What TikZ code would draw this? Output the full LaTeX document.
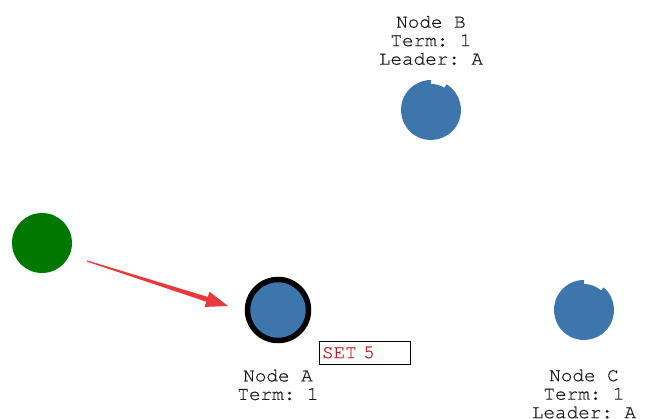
\documentclass[tikz,border=0pt]{standalone}
\usepackage{fontspec}
\setmonofont[FakeBold=0.6]{TeX Gyre Cursor}
\usetikzlibrary{shapes, arrows.meta, positioning, calc}
\definecolor{nodeblue}{RGB}{60,118,173}
\definecolor{clientgreen}{RGB}{0,120,0}
\definecolor{arrowred}{RGB}{232,58,58}
\definecolor{setred}{RGB}{180,30,30}
\tikzstyle{every node}=[font=\ttfamily\fontsize{19.3}{18.5}\selectfont]
\tikzstyle{server}=[circle, inner sep=0pt, minimum size=60pt]
\tikzstyle{leader}=[server, fill=nodeblue, draw=black, line width=5.5pt, minimum size=61pt]
\tikzstyle{status}=[align=center, text=black!90]
\tikzstyle{msg}=[draw, rectangle, line width=0.8pt, text=setred, minimum height=23pt, text width=85pt, inner xsep=3pt, align=left]
\newcommand{\timer}[2]{\fill[nodeblue] ($(#1)+(#2:30pt)$) arc[start angle=#2, end angle=-270, radius=30pt] -- ($(#1)+(90:26pt)$) arc[start angle=90, end angle=#2, radius=26pt] -- cycle;}

\begin{document}
\begin{tikzpicture}[x=1pt, y=1pt, node distance=70pt]
  \useasboundingbox (0,0) rectangle (645,418);
  \node[server, fill=clientgreen] (client) at (42,175) {};
  \node[leader] (a) at (278,108) {};
  \node[server] (b) at (431,308) {};
  \node[server] (c) at (584,108) {};
  \timer{b}{59}
  \timer{c}{49}
  \node[status, above of=b, node distance=69.5pt] (labb) {Node B\\Term: 1\\Leader: A};
  \node[status, below of=a, node distance=75pt] (laba) {Node A\\Term: 1};
  \node[status, below of=c, node distance=84pt] (labc) {Node C\\Term: 1\\Leader: A};
  \node[msg] (set) at (364.5,65.5) {SET 5};
  \coordinate (tail) at (87,157);
  \coordinate (tip) at (228,112);
  \coordinate (base) at ($(tip)!22pt!(tail)$);
  \fill[arrowred] ($(tail)!0.6pt!90:(tip)$) -- ($(base)!2.5pt!-90:(tail)$) -- ($(base)!8pt!-90:(tail)$) -- (tip) -- ($(base)!8pt!90:(tail)$) -- ($(base)!2.5pt!90:(tail)$) -- ($(tail)!0.6pt!-90:(tip)$) -- cycle;
\end{tikzpicture}
\end{document}
